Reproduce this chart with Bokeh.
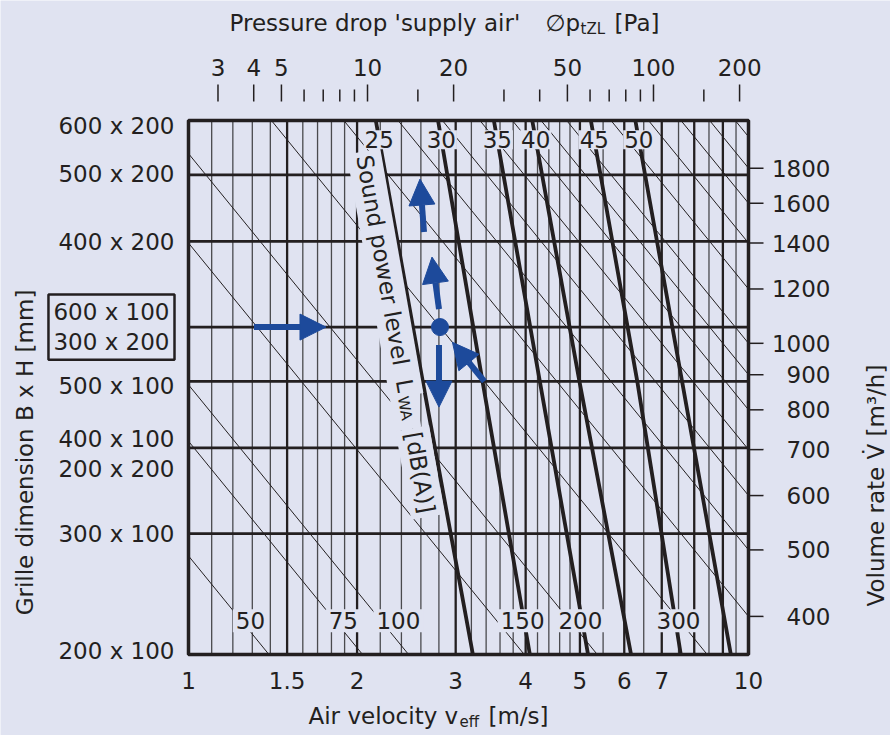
import math
from bokeh.plotting import figure
from bokeh.models import Range1d, Label, Arrow, NormalHead
from bokeh.embed import file_html
from bokeh.resources import INLINE

# ---------------- chart data ----------------
velocity_ticks = [1, 1.5, 2, 3, 4, 5, 6, 7, 10]                       # m/s
velocity_tick_labels = ["1", "1.5", "2", "3", "4", "5", "6", "7", "10"]
velocity_grid_major = [1.5, 2, 3, 4, 5, 6, 7, 8, 9]
velocity_grid_minor = [1.1, 1.2, 1.3, 1.4, 1.6, 1.7, 1.8, 1.9,
                       2.2, 2.4, 2.6, 2.8, 3.2, 3.4, 3.6, 3.8,
                       4.2, 4.4, 4.6, 4.8, 5.5, 6.5, 7.5, 8.5, 9.5]

grille_area = [0.02, 0.03, 0.04, 0.05, 0.06, 0.08, 0.10, 0.12]        # m2 (B x H)
grille_labels = ["200 x 100", "300 x 100", "400 x 100\n200 x 200", "500 x 100",
                 "600 x 100\n300 x 200", "400 x 200", "500 x 200", "600 x 200"]
grille_highlight = "600 x 100\n300 x 200"

pressure_ticks = [3, 4, 5, 10, 20, 50, 100, 200]                        # Pa
pressure_minor_ticks = [6, 7, 8, 9, 15, 30, 40, 60, 70, 80, 90, 150]
pressure_at_v1, pressure_at_v10 = 2.366, 214.9     # pressure-drop scale at v = 1 and 10 m/s

volume_ticks = [400, 500, 600, 700, 800, 900, 1000, 1200, 1400, 1600, 1800]   # m3/h
volume_lines = [49, 72, 87, 140, 189, 297, 400, 500, 600, 700, 800, 900,
                1000, 1200, 1400, 1600, 1800, 2000]
volume_line_labels = ["50", "75", "100", "150", "200", "300"]
volume_label_velocity = [1.29, 1.89, 2.37, 3.95, 5.01, 7.5]
volume_label_area = 0.0224
volume_factor = 1760.0          # V [m3/h] = factor * A [m2] * v [m/s]

sound_levels = [25, 30, 35, 40, 45, 50]                                # dB(A)
sound_line_area = [0.12, 0.05, 0.02]
sound_v_top = [2.16, 2.79, 3.51, 4.11, 5.23, 6.28]
sound_v_mid = [2.62, 3.35, 4.24, 4.99, 6.33, 7.61]
sound_v_bottom = [3.22, 4.07, 5.17, 6.17, 7.57, 9.30]
sound_label_area = 0.1125

example_volume = 297
example_area = 0.06

# ---------------- style / layout ----------------
BG = "#e0e3f1"
INK = "#231f20"
GRID_THIN = "#4a4a4e"
BLUE = "#1d4a9b"
FONT = "DejaVu Sans"
FS = "23px"
SUB = "15px"

W, H = 890, 735
BOX_L, BOX_R, BOX_T, BOX_B = 188.0, 748.0, 120.0, 654.0     # chart box in page pixels
V_MIN, V_MAX = velocity_ticks[0], velocity_ticks[-1]
A_MIN, A_MAX = grille_area[0], grille_area[-1]
PX_DEC_X = (BOX_R - BOX_L) / math.log10(V_MAX / V_MIN)
PX_DEC_Y = (BOX_B - BOX_T) / math.log10(A_MAX / A_MIN)


def at(px, py):
    """page pixel -> data coordinates"""
    return (V_MIN * 10 ** ((px - BOX_L) / PX_DEC_X),
            A_MIN * 10 ** ((BOX_B - py) / PX_DEC_Y))


def shift(v, a, dx=0.0, dy=0.0):
    return v * 10 ** (dx / PX_DEC_X), a * 10 ** (-dy / PX_DEC_Y)


def v_of_pressure(pr):
    f = math.log10(pr / pressure_at_v1) / math.log10(pressure_at_v10 / pressure_at_v1)
    return V_MIN * (V_MAX / V_MIN) ** f


x_lo, y_lo = at(0, H)
x_hi, y_hi = at(W, 0)
p = figure(width=W, height=H, x_axis_type="log", y_axis_type="log",
           x_range=Range1d(x_lo, x_hi), y_range=Range1d(y_lo, y_hi),
           x_axis_location=None, y_axis_location=None,
           output_backend="svg", toolbar_location=None, min_border=0)
p.background_fill_color = BG
p.border_fill_color = BG
p.outline_line_color = None
p.grid.visible = False

# ---------------- grid ----------------
p.segment(x0=velocity_grid_minor, y0=[A_MIN] * len(velocity_grid_minor),
          x1=velocity_grid_minor, y1=[A_MAX] * len(velocity_grid_minor),
          line_color=GRID_THIN, line_width=1.3)
p.segment(x0=velocity_grid_major, y0=[A_MIN] * len(velocity_grid_major),
          x1=velocity_grid_major, y1=[A_MAX] * len(velocity_grid_major),
          line_color=INK, line_width=2.3)
inner = grille_area[1:-1]
p.segment(x0=[V_MIN] * len(inner), y0=inner, x1=[V_MAX] * len(inner), y1=inner,
          line_color=INK, line_width=2.6)

# constant volume-rate diagonals, clipped to the chart box
dx, dy = [], []
for V in volume_lines:
    v1 = max(V_MIN, V / (volume_factor * A_MAX))
    v2 = min(V_MAX, V / (volume_factor * A_MIN))
    dx.append([v1, v2])
    dy.append([V / (volume_factor * v1), V / (volume_factor * v2)])
p.multi_line(xs=dx, ys=dy, line_color=INK, line_width=1.0)

# sound power lines
p.multi_line(xs=[[t, m, b] for t, m, b in zip(sound_v_top, sound_v_mid, sound_v_bottom)],
             ys=[sound_line_area for _ in sound_levels],
             line_color=INK, line_width=3.8)

# chart border
p.quad(left=[V_MIN], right=[V_MAX], bottom=[A_MIN], top=[A_MAX],
       fill_color=None, line_color=INK, line_width=3.5)

# top scale ticks (pressure drop)
_, ay0 = at(0, 101)
_, ay_major = at(0, 84)
_, ay_minor = at(0, 89)
maj = [v_of_pressure(pr) for pr in pressure_ticks]
mnr = [v_of_pressure(pr) for pr in pressure_minor_ticks]
p.segment(x0=maj, y0=[ay0] * len(maj), x1=maj, y1=[ay_major] * len(maj),
          line_color=INK, line_width=1.5)
p.segment(x0=mnr, y0=[ay0] * len(mnr), x1=mnr, y1=[ay_minor] * len(mnr),
          line_color=INK, line_width=1.5)

# right scale ticks (volume rate at the right edge)
vt_a = [V / (volume_factor * V_MAX) for V in volume_ticks]
tick_end, _ = shift(V_MAX, 1, 15, 0)
p.segment(x0=[V_MAX] * len(vt_a), y0=vt_a, x1=[tick_end] * len(vt_a), y1=vt_a,
          line_color=INK, line_width=1.5)


def add_label(x, y, text, size=FS, align="left", baseline="middle", angle=0.0,
              bg=None, pad=0, border=None, border_w=0, line_height=1.2):
    p.add_layout(Label(x=x, y=y, text=text, text_font=FONT, text_font_size=size,
                       text_color=INK, text_align=align, text_baseline=baseline,
                       angle=angle, background_fill_color=bg, padding=pad,
                       border_line_color=border, border_line_width=border_w,
                       text_line_height=line_height))


# sound level labels at the top of each line
for lvl, t, m in zip(sound_levels, sound_v_top, sound_v_mid):
    f = math.log10(sound_line_area[0] / sound_label_area) / math.log10(sound_line_area[0] / sound_line_area[1])
    v = 10 ** (math.log10(t) + f * (math.log10(m) - math.log10(t)))
    add_label(v, sound_label_area, str(lvl), align="center", bg=BG, pad=1)

# volume labels near the bottom
for txt, v in zip(volume_line_labels, volume_label_velocity):
    add_label(v, volume_label_area, txt, align="center", bg=BG, pad=3)

# rotated "Sound power level L_WA [dB(A)]"
ang = math.radians(-80)
d = (math.cos(math.radians(80)), math.sin(math.radians(80)))
down = (-d[1], d[0])
sx0, sy0 = 363.0, 151.0
for txt, along, perp, size in [("Sound power level\u00a0\u00a0L", 0, 0, FS),
                               ("WA\u00a0", 244, -4, SUB),
                               ("[dB(A)]", 281, 0, FS)]:
    px = sx0 + along * d[0] - perp * down[0]
    py = sy0 + along * d[1] - perp * down[1]
    x, y = at(px, py)
    add_label(x, y, txt, size=size, angle=ang, bg=BG, pad=4)

# bottom tick labels
_, yb = at(0, 680)
for v, txt in zip(velocity_ticks, velocity_tick_labels):
    add_label(v, yb, txt, align="center")

# top tick labels
_, yt = at(0, 67)
for pr in pressure_ticks:
    add_label(v_of_pressure(pr), yt, str(pr), align="center")

# left: grille dimension labels
grille_nudge = [-4, 0, 6, 5, 0, 1, -1, 5]
xl, _ = at(174, 0)
for a, txt, nd in zip(grille_area, grille_labels, grille_nudge):
    _, y = shift(1, a, 0, nd)
    if txt == grille_highlight:
        add_label(xl, y, txt, align="right", border=INK, border_w=2.5, pad=5, line_height=1.13)
    else:
        add_label(xl, y, txt, align="right", line_height=1.15)

# right: volume rate labels (right aligned)
xr, _ = at(830, 0)
for V, a in zip(volume_ticks, vt_a):
    add_label(xr, a, str(V), align="right")

# axis titles
x, y = at(24, 452)
add_label(x, y, "Grille dimension B x H [mm]", align="center", angle=math.pi / 2)
x, y = at(875, 485)
add_label(x, y, "Volume rate V\u0307 [m\u00b3/h]", align="center", angle=math.pi / 2)

x, y = at(308, 715)
add_label(x, y, "Air velocity v")
x, y = at(459, 721)
add_label(x, y, "eff", size=SUB)
x, y = at(548, 715)
add_label(x, y, "[m/s]", align="right")

x, y = at(229, 22)
add_label(x, y, "Pressure drop 'supply air'")
x, y = at(545, 22)
add_label(x, y, "\u2205p")
x, y = at(580, 28)
add_label(x, y, "tZL", size=SUB)
x, y = at(659, 22)
add_label(x, y, "[Pa]", align="right")

# ---------------- worked example (blue) ----------------
ex_v = example_volume / (volume_factor * example_area)
p.scatter(x=[ex_v], y=[example_area], size=17, color=BLUE)


def add_arrow(start, end):
    p.add_layout(Arrow(end=NormalHead(size=26, fill_color=BLUE, line_color=BLUE),
                       x_start=start[0], y_start=start[1], x_end=end[0], y_end=end[1],
                       line_color=BLUE, line_width=6))


add_arrow(shift(ex_v, example_area, -186), shift(ex_v, example_area, -114))
add_arrow(shift(ex_v, example_area, -1, 18), shift(ex_v, example_area, -1, 80))
add_arrow(shift(ex_v, example_area, -1, -18), shift(ex_v, example_area, -8, -70))
add_arrow(shift(ex_v, example_area, -16, -95), shift(ex_v, example_area, -20, -148))
add_arrow((example_volume / (volume_factor * 0.05), 0.05),
          (example_volume / (volume_factor * 0.057), 0.057))

with open("out.html", "w", encoding="utf-8") as fh:
    fh.write(file_html(p, INLINE))
